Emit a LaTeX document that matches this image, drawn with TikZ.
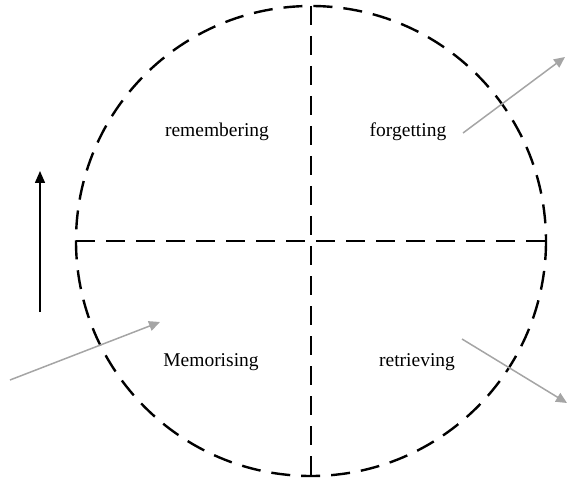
\documentclass[tikz,border=0pt]{standalone}
\usepackage{fontspec}
\setmainfont{Liberation Serif}
\usetikzlibrary{arrows.meta}
\definecolor{arrowgrey}{RGB}{165,165,165}

\begin{document}
\begin{tikzpicture}[x=1pt,y=-1pt,
    font=\fontsize{19.5}{23}\selectfont,
    quadline/.style={line width=2.4pt,dash pattern=on 19pt off 11pt},
    flowarrow/.style={arrowgrey,line width=1.5pt,-{Triangle[length=11pt,width=10pt]}},
    timearrow/.style={black,line width=1.5pt,-{Triangle[length=12pt,width=10pt]}}]
  \useasboundingbox (0,0) rectangle (567,478);
  % circle and quadrants
  \coordinate (c) at (311,241);
  \coordinate (top) at (311,6);
  \coordinate (bottom) at (311,476);
  \coordinate (left) at (76,241);
  \coordinate (right) at (546,241);
  \draw[quadline] (c) circle (235);
  \draw[quadline] (top) -- (bottom);
  \draw[quadline] (left) -- (right);
  % labels
  \node (remember) at (217,132) {remembering};
  \node (forget) at (408,132) {forgetting};
  \node (memorise) at (211,362) {Memorising};
  \node (retrieve) at (417,362) {retrieving};
  % arrows
  \coordinate (tbase) at (40,312);
  \coordinate (ttip) at (40,171);
  \draw[timearrow] (tbase) -- (ttip);
  \coordinate (inA) at (10,380);
  \coordinate (inB) at (160,322);
  \draw[flowarrow] (inA) -- (inB);
  \coordinate (fA) at (463,133);
  \coordinate (fB) at (565,57);
  \draw[flowarrow] (fA) -- (fB);
  \coordinate (rA) at (462,339);
  \coordinate (rB) at (567,403);
  \draw[flowarrow] (rA) -- (rB);
\end{tikzpicture}
\end{document}
